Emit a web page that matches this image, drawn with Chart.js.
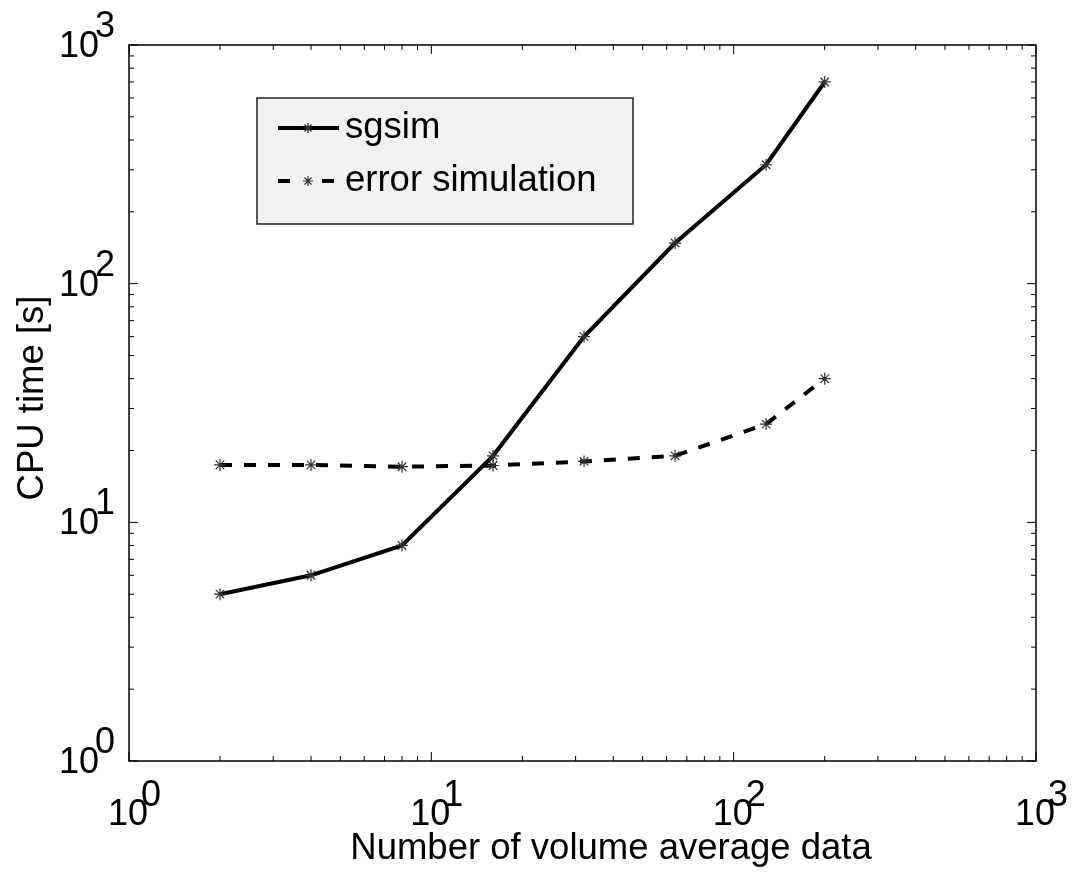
<!DOCTYPE html>
<html>
<head>
<meta charset="utf-8">
<script src="https://cdn.jsdelivr.net/npm/chart.js@4"></script>
<style>
  body { margin: 0; background: #fff; }
  #box { width: 1074px; height: 877px; }
</style>
</head>
<body>
<div id="box"><canvas id="cpuChart"></canvas></div>
<script>
// dati
const nData = [2, 4, 8, 16, 32, 64, 128, 200];
const sgsimTime = [5, 6, 8, 19, 60, 148, 315, 700];
const errorSimTime = [17.4, 17.4, 17.1, 17.3, 18, 19, 25.8, 40];
const seriesNames = ['sgsim', 'error simulation'];
const majorTicks = [1, 10, 100, 1000];
const tickExp = ['0', '1', '2', '3'];
const xTitle = 'Number of volume average data';
const yTitle = 'CPU time [s]';

const FONT = '"Liberation Sans", Arial, Helvetica, sans-serif';

// asterisco stile matlab
function asterisk(ctx, x, y, r) {
  ctx.save();
  ctx.strokeStyle = '#333';
  ctx.lineWidth = 1.2;
  ctx.beginPath();
  for (let k = 0; k < 4; k++) {
    let a = k * Math.PI / 4;
    ctx.moveTo(x - r * Math.cos(a), y - r * Math.sin(a));
    ctx.lineTo(x + r * Math.cos(a), y + r * Math.sin(a));
  }
  ctx.stroke();
  ctx.restore();
}

// cornice, tacche, etichette e legenda
const AxesPlugin = {
  id: 'axesPlugin',
  afterDraw: (chart) => {
    const ctx = chart.ctx;
    const a = chart.chartArea;
    const xs = chart.scales.x;
    const ys = chart.scales.y;
    ctx.save();

    ctx.strokeStyle = '#000';
    ctx.lineWidth = 1.5;
    ctx.strokeRect(a.left, a.top, a.right - a.left, a.bottom - a.top);

    // tacche (major + minor)
    ctx.lineWidth = 1;
    ctx.beginPath();
    for (let d = 0; d < majorTicks.length; d++) {
      for (let m = 1; m <= 9; m++) {
        let v = majorTicks[d] * m;
        if (v > majorTicks[majorTicks.length - 1]) break;
        let len = m === 1 ? 9 : 5;
        let px = xs.getPixelForValue(v);
        ctx.moveTo(px, a.bottom); ctx.lineTo(px, a.bottom - len);
        ctx.moveTo(px, a.top); ctx.lineTo(px, a.top + len);
        let py = ys.getPixelForValue(v);
        ctx.moveTo(a.left, py); ctx.lineTo(a.left + len, py);
        ctx.moveTo(a.right, py); ctx.lineTo(a.right - len, py);
      }
    }
    ctx.stroke();

    // etichette 10^n
    ctx.fillStyle = '#000';
    ctx.font = '36px ' + FONT;
    ctx.textBaseline = 'alphabetic';
    majorTicks.forEach((v, i) => {
      let px = xs.getPixelForValue(v);
      ctx.textAlign = 'center';
      ctx.fillText('10', px - 1, a.bottom + 64);
      ctx.textAlign = 'left';
      ctx.fillText(tickExp[i], px + 12, a.bottom + 45);

      let py = ys.getPixelForValue(v);
      ctx.textAlign = 'right';
      ctx.fillText('10', a.left - 30, py + 12);
      ctx.textAlign = 'left';
      ctx.fillText(tickExp[i], a.left - 34, py - 8);
    });

    // titoli assi
    ctx.font = '36.5px ' + FONT;
    ctx.textAlign = 'center';
    ctx.fillText(xTitle, 611, 859);
    ctx.save();
    ctx.translate(43, 398);
    ctx.rotate(-Math.PI / 2);
    ctx.fillText(yTitle, 0, 0);
    ctx.restore();

    // legenda
    ctx.fillStyle = '#f2f2f2';
    ctx.fillRect(257, 98, 376, 126);
    ctx.strokeStyle = '#222';
    ctx.lineWidth = 1.5;
    ctx.strokeRect(257, 98, 376, 126);

    ctx.strokeStyle = '#000';
    ctx.lineWidth = 4;
    ctx.beginPath();
    ctx.moveTo(278, 128); ctx.lineTo(339, 128);
    ctx.stroke();
    asterisk(ctx, 308, 128, 5);

    ctx.setLineDash([12, 32]);
    ctx.beginPath();
    ctx.moveTo(278, 181); ctx.lineTo(339, 181);
    ctx.stroke();
    ctx.setLineDash([]);
    asterisk(ctx, 308, 181, 5);

    ctx.fillStyle = '#000';
    ctx.font = '36.5px ' + FONT;
    ctx.textAlign = 'left';
    ctx.textBaseline = 'middle';
    ctx.fillText(seriesNames[0], 345, 128);
    ctx.fillText(seriesNames[1], 345, 181);

    ctx.restore();
  }
};

let data = {
  datasets: [{
    label: seriesNames[0],
    data: nData.map((n, i) => ({ x: n, y: sgsimTime[i] })),
    borderColor: '#000',
    borderWidth: 4,
    pointStyle: 'star',
    pointRadius: 6,
    pointBorderColor: '#333',
    pointBorderWidth: 1.2,
    pointBackgroundColor: 'rgba(0,0,0,0)',
    tension: 0
  }, {
    label: seriesNames[1],
    data: nData.map((n, i) => ({ x: n, y: errorSimTime[i] })),
    borderColor: '#000',
    borderWidth: 4,
    borderDash: [12, 12],
    pointStyle: 'star',
    pointRadius: 6,
    pointBorderColor: '#333',
    pointBorderWidth: 1.2,
    pointBackgroundColor: 'rgba(0,0,0,0)',
    tension: 0
  }]
};

let options = {
  responsive: true,
  maintainAspectRatio: false,
  animation: false,
  layout: { padding: { left: 129, right: 38, top: 45, bottom: 116 } },
  scales: {
    x: { type: 'logarithmic', min: 1, max: 1000, display: false },
    y: { type: 'logarithmic', min: 1, max: 1000, display: false }
  },
  plugins: { legend: { display: false }, tooltip: { enabled: false } }
};

let ctx = document.getElementById('cpuChart').getContext('2d');
let cpuChart = new Chart(ctx, {
  type: 'line',
  data: data,
  options: options,
  plugins: [AxesPlugin]
});
</script>
</body>
</html>
